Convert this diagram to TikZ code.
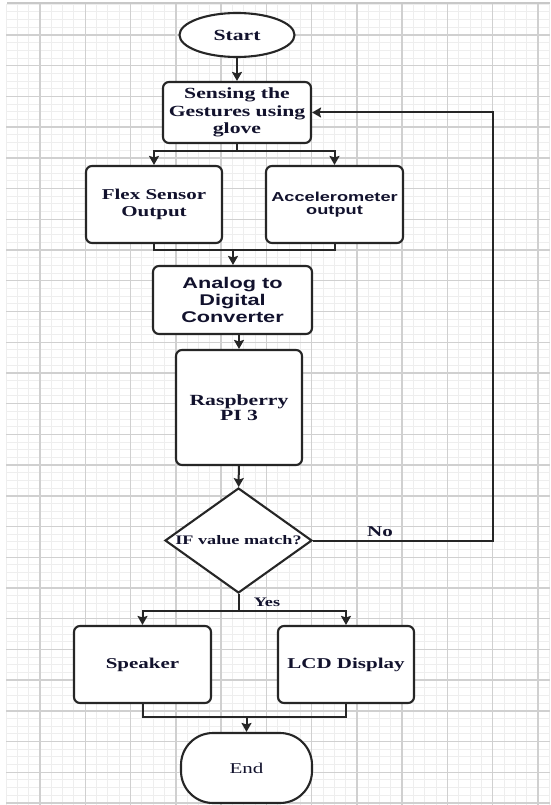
\documentclass[tikz,border=0pt]{standalone}
\usepackage{fontspec}
\newfontfamily\serifwide{Liberation Serif}[FakeStretch=1.4]
\newfontfamily\sanswide{Liberation Sans}[FakeStretch=1.4]
\definecolor{gridmajor}{RGB}{208, 208, 208}
\definecolor{gridminor}{RGB}{238, 238, 238}
\definecolor{gridedge}{RGB}{200, 200, 200}
\definecolor{edgegray}{RGB}{38, 38, 38}
\definecolor{inkblue}{RGB}{18, 18, 45}
\usetikzlibrary{shapes, arrows.meta, positioning, calc}

\begin{document}
\begin{tikzpicture}[x=1pt, y=-1pt,
  flowbox/.style={draw=edgegray, line width=2.1pt, fill=white, rounded corners=6pt, align=center, inner sep=0pt, text=inkblue, font=\fontsize{15}{17}\serifwide\bfseries},
  flowline/.style={draw=edgegray, line width=2pt},
  flowarrow/.style={flowline, -{Stealth[length=9pt, width=10pt, inset=1.5pt]}},
  flowlabel/.style={text=inkblue, inner sep=0pt, font=\fontsize{15}{17}\serifwide\bfseries}]
  \useasboundingbox (0, 0) rectangle (550, 805);
  \fill[white] (0, 0) rectangle (550, 805);

  % Grid paper
  \foreach \k in {-3,...,45} \draw[gridminor, line width=1pt] (40+11.32*\k, 4) -- (40+11.32*\k, 805);
  \foreach \k in {-4,...,100} \draw[gridminor, line width=1pt] (6, 35+7.68*\k) -- (550, 35+7.68*\k);
  \foreach \k in {0,...,11} \draw[gridmajor, line width=1.4pt] (40+45.27*\k, 4) -- (40+45.27*\k, 805);
  \foreach \k in {0,...,25} \draw[gridmajor, line width=1.4pt] (6, 35+30.72*\k) -- (550, 35+30.72*\k);
  \draw[gridedge, line width=2pt] (7, 3) -- (550, 3);

  % Start and sensing
  \node[flowbox, ellipse, rounded corners=0pt, minimum width=115pt, minimum height=44pt, font=\fontsize{15.5}{17}\serifwide\bfseries] (start) at (237, 35) {Start};
  \node[flowbox, minimum width=148pt, minimum height=61pt, font=\fontsize{15.5}{17.5}\serifwide\bfseries] (sense) at (237, 112.5) {Sensing the\\Gestures using\\glove};

  % Two sensors
  \node[flowbox, minimum width=136pt, minimum height=77pt] (flex) at (154, 204.5) {Flex Sensor\\Output};
  \node[flowbox, minimum width=137pt, minimum height=77pt, font=\fontsize{13}{13.5}\sanswide\bfseries] (accel) at (334.5, 204.5) {Accelerometer\\output};

  % Conversion and processing
  \node[flowbox, minimum width=159pt, minimum height=68pt, font=\fontsize{15.5}{17}\sanswide\bfseries] (adc) at (232.5, 300) {Analog to\\Digital\\Converter};
  \node[flowbox, minimum width=126pt, minimum height=115pt, font=\fontsize{15.5}{15}\serifwide\bfseries] (rpi) at (239, 407.5) {Raspberry\\PI 3};

  % Decision
  \node[diamond, draw=edgegray, line width=2.1pt, fill=white, minimum width=147pt, minimum height=105pt, inner sep=0pt, text=inkblue, font=\fontsize{13}{14}\serifwide\bfseries] (match) at (238.5, 540.5) {\makebox[0pt]{IF value match?}};

  % Outputs and end
  \node[flowbox, minimum width=137pt, minimum height=77pt] (spk) at (142.5, 664.5) {Speaker};
  \node[flowbox, minimum width=136pt, minimum height=77pt] (lcd) at (346, 664.5) {LCD Display};
  \node[flowbox, rounded corners=32pt, minimum width=131pt, minimum height=70pt, font=\fontsize{15}{17}\serifwide] (stop) at (246.5, 768) {End};

  % Connectors
  \coordinate (adcin) at (233, 250);
  \coordinate (loopturn) at (493, 540.5);
  \coordinate (endin) at (246.5, 717);

  \draw[flowarrow] (start) -- (sense);
  \draw[flowarrow] (sense.south) -- ++(0, 7) -| (flex.north);
  \draw[flowarrow] (sense.south) -- ++(0, 7) -| (accel.north);
  \draw[flowline] (flex.south) |- (adcin) -| (accel.south);
  \draw[flowarrow] (adcin) -- (adcin |- adc.north);
  \draw[flowarrow] (adc.south -| rpi.north) -- (rpi.north);
  \draw[flowarrow] (rpi) -- (match);
  \draw[flowarrow] (match.east) -- (loopturn) |- (sense.east);
  \draw[flowarrow] (match.south) -- ++(0, 17) -| (spk.north);
  \draw[flowarrow] (match.south) -- ++(0, 17) -| (lcd.north);
  \draw[flowline] (spk.south) |- (endin) -| (lcd.south);
  \draw[flowarrow] (endin) -- (stop);

  % Branch labels
  \node[flowlabel] (no) at (380, 532) {No};
  \node[flowlabel, font=\fontsize{13}{14}\serifwide\bfseries] (yes) at (267, 602) {Yes};
\end{tikzpicture}
\end{document}
